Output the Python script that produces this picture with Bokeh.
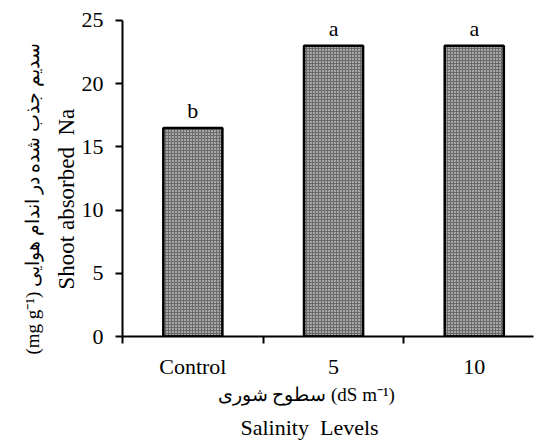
from bokeh.plotting import figure
from bokeh.models import FixedTicker, Range1d, Title, ColumnDataSource
from bokeh.embed import file_html
from bokeh.resources import INLINE
from bokeh.core.properties import value

categories = ["Control", "5", "10"]
na_values = [16.5, 23.0, 23.0]
letters = ["b", "a", "a"]
y_ticks = [0, 5, 10, 15, 20, 25]

x_title_fa = "سطوح شوری (dS m\u207b\u00b9)"
x_title_en = "Salinity\u00a0\u00a0Levels"
y_title_fa = "(mg g\u207b\u00b9) سدیم جذب شده در اندام هوایی"
y_title_en = "Shoot absorbed\u00a0\u00a0Na"

FONT = "Liberation Serif"
FS = "22px"
FS_FA = "19px"

x_pos = [i + 0.5 for i in range(len(categories))]
src = ColumnDataSource(dict(x=x_pos, top=na_values, lab=letters,
                            ly=[v + 1.4 for v in na_values]))

p = figure(width=536, height=447, output_backend="svg", toolbar_location=None,
           x_range=Range1d(0, 2.921), y_range=Range1d(0, 26.58),
           min_border_left=122, min_border_right=3, min_border_top=0,
           min_border_bottom=110)
p.outline_line_color = None
p.grid.visible = False
p.background_fill_color = "white"

p.vbar(x="x", top="top", bottom=0, width=0.42, source=src,
       fill_color="#6a6a6a", hatch_pattern="dot", hatch_color="white",
       hatch_scale=3, hatch_weight=1.3,
       line_color="black", line_width=2.5)

p.text(x="x", y="ly", text="lab", source=src, text_align="center",
       text_baseline="alphabetic", text_font=value(FONT), text_font_size=FS,
       text_color="black")

# y axis
ya = p.yaxis[0]
ya.ticker = FixedTicker(ticks=y_ticks)
ya.bounds = (0, 25)
ya.axis_line_width = 2
ya.major_tick_line_width = 2
ya.major_tick_out = 7
ya.major_tick_in = 0
ya.minor_tick_line_color = None
ya.major_label_standoff = 12
ya.major_label_text_font = FONT
ya.major_label_text_font_size = FS
ya.major_label_text_color = "black"

# x axis
xa = p.xaxis[0]
xa.ticker = FixedTicker(ticks=x_pos, minor_ticks=[0, 1, 2, 3])
xa.major_label_overrides = {x: c for x, c in zip(x_pos, categories)}
xa.axis_line_width = 2
xa.major_tick_line_color = None
xa.minor_tick_line_color = "black"
xa.minor_tick_line_width = 2
xa.minor_tick_out = 7
xa.minor_tick_in = 0
xa.major_label_standoff = 10
xa.major_label_text_font = FONT
xa.major_label_text_font_size = FS
xa.major_label_text_color = "black"

# axis titles (as side titles so they can be offset)
def side_title(text, size, offset, standoff=0):
    return Title(text=text, align="left", offset=offset, standoff=standoff,
                 text_font=FONT, text_font_size=size, text_font_style="normal",
                 text_color="black")

p.add_layout(side_title(y_title_en, "23px", 47), "left")
p.add_layout(side_title(y_title_fa, FS_FA, -18, 18), "left")
p.add_layout(side_title(x_title_fa, FS_FA, 95), "below")
p.add_layout(side_title(x_title_en, FS, 118, 16), "below")

open("out.html", "w").write(file_html(p, INLINE))
